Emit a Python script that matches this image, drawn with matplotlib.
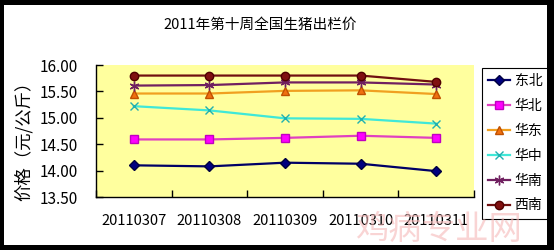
import matplotlib
matplotlib.use("Agg")
import matplotlib.pyplot as plt
from matplotlib.patches import Rectangle

plt.rcParams['font.family'] = ['Noto Sans CJK SC', 'DejaVu Sans']

dates = ["20110307", "20110308", "20110309", "20110310", "20110311"]
series_names = ["东北", "华北", "华东", "华中", "华南", "西南"]
dongbei = [14.10, 14.08, 14.15, 14.13, 13.99]
huabei = [14.59, 14.59, 14.62, 14.66, 14.62]
huadong = [15.46, 15.46, 15.51, 15.52, 15.45]
huazhong = [15.22, 15.14, 14.99, 14.98, 14.89]
huanan = [15.61, 15.62, 15.67, 15.67, 15.63]
xinan = [15.80, 15.80, 15.80, 15.80, 15.68]
yticks = [13.50, 14.00, 14.50, 15.00, 15.50, 16.00]
title = "2011年第十周全国生猪出栏价"
ylabel = "价格（元/公斤）"
watermark = "鸡病专业网"

values = [dongbei, huabei, huadong, huazhong, huanan, xinan]
styles = [
    dict(color="#000066", marker="D", mfc="#000080", mec="#000040", ms=5),
    dict(color="#E040C0", marker="s", mfc="#FF00FF", mec="#C000C0", ms=6),
    dict(color="#F0A020", marker="^", mfc="#F07010", mec="#C05000", ms=6),
    dict(color="#40E8D8", marker="x", mfc="#20C0C0", mec="#20B0B0", ms=6, mew=1.0),
    dict(color="#702060", marker=(6, 2, 0), mfc="#702060", mec="#702060", ms=7, mew=1.0),
    dict(color="#701010", marker="o", mfc="#801010", mec="#500000", ms=6),
]

W, H = 554, 250
fig = plt.figure(figsize=(W / 100, H / 100), dpi=100)
fig.patch.set_facecolor("white")

ax = fig.add_axes([96 / W, 1 - 197 / H, (474 - 96) / W, (197 - 65) / H])
ax.set_facecolor("#FFFF9E")

x = list(range(len(dates)))
handles = []
for name, vals, st in zip(series_names, values, styles):
    (ln,) = ax.plot(x, vals, lw=1.6, label=name, **st)
    handles.append(ln)

ax.set_xlim(-0.5, len(dates) - 0.5)
ax.set_ylim(13.5, 16.0)
ax.set_yticks(yticks)
ax.set_yticklabels([f"{v:.2f}" for v in yticks], fontsize=11)
ax.set_xticks([i - 0.5 for i in range(len(dates) + 1)])
ax.set_xticklabels([])
ax.set_xticks(x, minor=True)
ax.set_xticklabels(dates, minor=True, fontsize=10.5)
ax.tick_params(axis="x", which="major", direction="in", length=5, width=1, color="black")
ax.tick_params(axis="x", which="minor", length=0, pad=12)
ax.tick_params(axis="y", direction="in", length=5, width=1, pad=13)
for s in ["top", "right"]:
    ax.spines[s].set_visible(False)
for s in ["left", "bottom"]:
    ax.spines[s].set_color("black")
    ax.spines[s].set_linewidth(1.0)

fig.text(260 / W, 1 - 24.5 / H, title, ha="center", va="center", fontsize=10.5)
fig.text(24 / W, 1 - 137 / H, ylabel, ha="center", va="center", rotation=90, fontsize=12.5)

leg = ax.legend(handles=handles, loc="upper left", bbox_to_anchor=(482 / W, 1 - 68 / H),
                bbox_transform=fig.transFigure, borderaxespad=0, fontsize=10,
                frameon=True, fancybox=False, edgecolor="black", framealpha=1,
                handlelength=1.6, handletextpad=0.3, labelspacing=0.78, borderpad=0.45)
leg.get_frame().set_linewidth(0.8)

# watermark
fig.text(438 / W, 1 - 229 / H, watermark, ha="center", va="center", fontsize=24,
         color="#F5B8B8", alpha=0.6, zorder=5)

# black border
border = [(0, 0, 4 / W, 1), (0, 1 - 5 / H, 1, 5 / H), (1 - 7 / W, 0, 7 / W, 1), (0, 0, 1, 5 / H)]
for (bx, by, bw, bh) in border:
    fig.add_artist(Rectangle((bx, by), bw, bh, transform=fig.transFigure,
                             facecolor="black", edgecolor="none", zorder=20))

fig.savefig("out.png", dpi=100)
